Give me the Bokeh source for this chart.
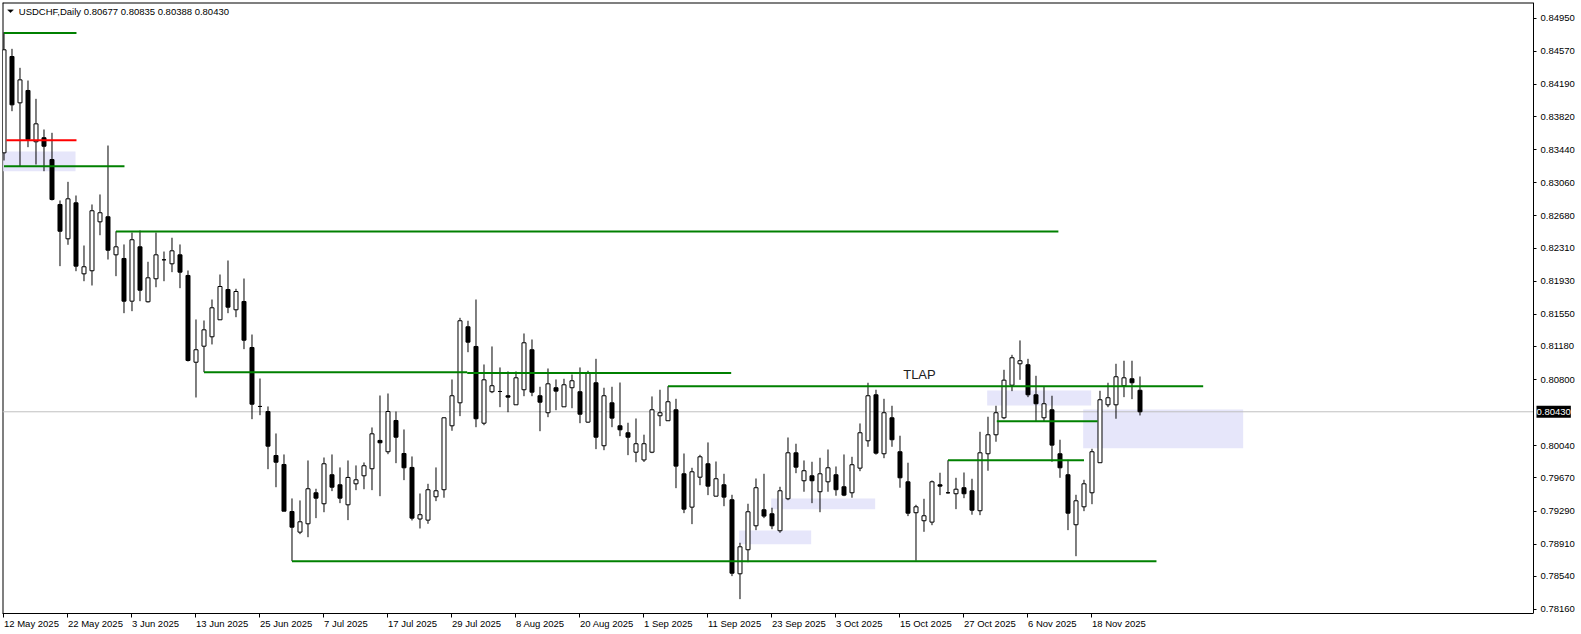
from bokeh.plotting import figure
from bokeh.models import Range1d, FixedTicker, Label, PolyAnnotation, ColumnDataSource, NumeralTickFormatter
from bokeh.embed import file_html
from bokeh.resources import INLINE
from bokeh.core.properties import value

# ---------------- data (USDCHF daily, bar 0 = 12 May 2025) ----------------
opens = [0.83403, 0.84509, 0.83977, 0.84119, 0.83530, 0.83576, 0.83326, 0.82810, 0.82416, 0.82829,
         0.82014, 0.82049, 0.82611, 0.82669, 0.82232, 0.82190, 0.81700, 0.82324, 0.81693, 0.81957,
         0.82175, 0.82129, 0.82232, 0.81995, 0.80999, 0.81183, 0.81291, 0.81486, 0.81834, 0.81601,
         0.81696, 0.81168, 0.80491, 0.80433, 0.79928, 0.79825, 0.79285, 0.79048, 0.79144, 0.79500,
         0.79374, 0.79707, 0.79592, 0.79362, 0.79603, 0.79695, 0.79776, 0.80101, 0.79971, 0.80330,
         0.79951, 0.79791, 0.79199, 0.79186, 0.79454, 0.79535, 0.80269, 0.80533, 0.81406, 0.81180,
         0.80299, 0.80660, 0.80663, 0.80614, 0.80510, 0.80683, 0.81142, 0.80614, 0.80419, 0.80706,
         0.80487, 0.80706, 0.80660, 0.80311, 0.80763, 0.80040, 0.80533, 0.80269, 0.80189, 0.79966,
         0.79877, 0.79966, 0.80384, 0.80327, 0.80453, 0.79718, 0.79335, 0.79679, 0.79833, 0.79461,
         0.79592, 0.79420, 0.78570, 0.78846, 0.79121, 0.79305, 0.79259, 0.79064, 0.79431, 0.79959,
         0.79638, 0.79695, 0.79512, 0.79626, 0.79707, 0.79569, 0.79500, 0.79783, 0.80097, 0.80625,
         0.79948, 0.80361, 0.79971, 0.79626, 0.79271, 0.79179, 0.79163, 0.79592, 0.79500, 0.79489,
         0.79558, 0.79523, 0.79294, 0.79948, 0.80166, 0.80361, 0.80735, 0.80981, 0.80970, 0.80625,
         0.80361, 0.80453, 0.79948, 0.79707, 0.79133, 0.79339, 0.79500, 0.79845, 0.80510, 0.80510,
         0.80729, 0.80809, 0.80677]
highs = [0.84788, 0.84597, 0.84379, 0.84233, 0.84023, 0.83671, 0.83633, 0.82856, 0.83070, 0.82913,
         0.82339, 0.82810, 0.82925, 0.83487, 0.82503, 0.82351, 0.82488, 0.82511, 0.82152, 0.82488,
         0.82270, 0.82428, 0.82351, 0.82052, 0.81490, 0.81478, 0.81719, 0.82006, 0.82167, 0.81842,
         0.81960, 0.81317, 0.80812, 0.80491, 0.80181, 0.79940, 0.79435, 0.79412, 0.79871, 0.79546,
         0.79905, 0.79940, 0.79791, 0.79871, 0.79814, 0.79848, 0.80250, 0.80617, 0.80640, 0.80433,
         0.80227, 0.79917, 0.79492, 0.79603, 0.79791, 0.80365, 0.80801, 0.81509, 0.81475, 0.81719,
         0.80973, 0.81180, 0.80939, 0.80893, 0.80893, 0.81329, 0.81260, 0.80717, 0.80927, 0.80801,
         0.80809, 0.80858, 0.80939, 0.80901, 0.81038, 0.80706, 0.80717, 0.80766, 0.80304, 0.80353,
         0.80167, 0.80606, 0.80683, 0.80724, 0.80579, 0.79951, 0.79787, 0.79936, 0.80078, 0.79859,
         0.79718, 0.79477, 0.78926, 0.79374, 0.79664, 0.79718, 0.79328, 0.79569, 0.80135, 0.80063,
         0.79871, 0.79856, 0.79902, 0.79997, 0.79802, 0.79940, 0.79913, 0.80296, 0.80763, 0.80683,
         0.80579, 0.80499, 0.80155, 0.79845, 0.79362, 0.79431, 0.79641, 0.79730, 0.79874, 0.79672,
         0.79733, 0.79661, 0.80200, 0.80373, 0.80499, 0.80912, 0.81084, 0.81249, 0.81038, 0.80843,
         0.80717, 0.80614, 0.80109, 0.79879, 0.79477, 0.79649, 0.80005, 0.80671, 0.80763, 0.80981,
         0.81016, 0.81016, 0.80835]
lows = [0.83315, 0.83881, 0.83250, 0.83468, 0.83269, 0.83192, 0.82856, 0.82102, 0.82347, 0.82044,
        0.81929, 0.81880, 0.82457, 0.82178, 0.81987, 0.81562, 0.81585, 0.81700, 0.81685, 0.81860,
        0.81929, 0.82033, 0.81849, 0.81007, 0.80594, 0.80885, 0.81203, 0.81486, 0.81562, 0.81516,
        0.81149, 0.80345, 0.80391, 0.79771, 0.79564, 0.79289, 0.78715, 0.79025, 0.78990, 0.79209,
        0.79277, 0.79519, 0.79381, 0.79186, 0.79530, 0.79541, 0.79530, 0.79461, 0.79943, 0.79840,
        0.79645, 0.79182, 0.79090, 0.79144, 0.79404, 0.79443, 0.80212, 0.80380, 0.81114, 0.80253,
        0.80276, 0.80644, 0.80483, 0.80425, 0.80510, 0.80609, 0.80609, 0.80207, 0.80368, 0.80448,
        0.80487, 0.80471, 0.80299, 0.80304, 0.80001, 0.79989, 0.80253, 0.80150, 0.79932, 0.79851,
        0.79854, 0.79955, 0.80265, 0.80327, 0.79553, 0.79266, 0.79140, 0.79587, 0.79473, 0.79461,
        0.79346, 0.78543, 0.78279, 0.78703, 0.79071, 0.79209, 0.79082, 0.79041, 0.79415, 0.79725,
        0.79512, 0.79381, 0.79277, 0.79512, 0.79466, 0.79461, 0.79443, 0.79748, 0.80028, 0.79938,
        0.79897, 0.80028, 0.79558, 0.79232, 0.78720, 0.79052, 0.79128, 0.79473, 0.79489, 0.79312,
        0.79438, 0.79248, 0.79243, 0.79753, 0.80086, 0.80345, 0.80667, 0.80797, 0.80598, 0.80315,
        0.80315, 0.79856, 0.79672, 0.79071, 0.78772, 0.79289, 0.79369, 0.79845, 0.80483, 0.80350,
        0.80598, 0.80575, 0.80388]
closes = [0.84586, 0.83954, 0.84241, 0.83556, 0.83736, 0.83479, 0.82867, 0.82503, 0.82875, 0.82102,
          0.82095, 0.82738, 0.82715, 0.82285, 0.82324, 0.81700, 0.82405, 0.81826, 0.81968, 0.82232,
          0.82175, 0.82278, 0.82033, 0.81019, 0.81142, 0.81371, 0.81624, 0.81868, 0.81631, 0.81811,
          0.81252, 0.80517, 0.80491, 0.80035, 0.79851, 0.79289, 0.79105, 0.79167, 0.79546, 0.79438,
          0.79833, 0.79564, 0.79438, 0.79676, 0.79649, 0.79810, 0.80177, 0.80074, 0.80433, 0.80138,
          0.79787, 0.79209, 0.79248, 0.79535, 0.79523, 0.80361, 0.80614, 0.81475, 0.81229, 0.80350,
          0.80797, 0.80729, 0.80663, 0.80598, 0.80820, 0.81222, 0.80655, 0.80540, 0.80751, 0.80667,
          0.80740, 0.80786, 0.80402, 0.80878, 0.80138, 0.80614, 0.80357, 0.80223, 0.80138, 0.80063,
          0.80063, 0.80453, 0.80419, 0.80545, 0.79806, 0.79312, 0.79741, 0.79913, 0.79576, 0.79661,
          0.79450, 0.78577, 0.78880, 0.79282, 0.79558, 0.79232, 0.79121, 0.79523, 0.79959, 0.79794,
          0.79753, 0.79638, 0.79718, 0.79787, 0.79535, 0.79473, 0.79822, 0.80189, 0.80614, 0.79955,
          0.80419, 0.80109, 0.79672, 0.79266, 0.79339, 0.79236, 0.79626, 0.79576, 0.79500, 0.79541,
          0.79489, 0.79300, 0.79959, 0.80166, 0.80419, 0.80793, 0.81050, 0.81016, 0.80625, 0.80522,
          0.80522, 0.80047, 0.79787, 0.79266, 0.79408, 0.79603, 0.79971, 0.80568, 0.80591, 0.80832,
          0.80820, 0.80763, 0.80430]

date_labels = ["12 May 2025", "22 May 2025", "3 Jun 2025", "13 Jun 2025", "25 Jun 2025",
               "7 Jul 2025", "17 Jul 2025", "29 Jul 2025", "8 Aug 2025", "20 Aug 2025",
               "1 Sep 2025", "11 Sep 2025", "23 Sep 2025", "3 Oct 2025", "15 Oct 2025",
               "27 Oct 2025", "6 Nov 2025", "18 Nov 2025"]
date_label_bars = [0, 8, 16, 24, 32, 40, 48, 56, 64, 72, 80, 88, 96, 104, 112, 120, 128, 136]

price_ticks = [0.84950, 0.84570, 0.84190, 0.83820, 0.83440, 0.83060, 0.82680, 0.82310, 0.81930,
               0.81550, 0.81180, 0.80800, 0.80040, 0.79670, 0.79290, 0.78910, 0.78540, 0.78160]

symbol = "USDCHF"
timeframe = "Daily"
last_price = 0.80430

# horizontal levels: (start bar, end bar, price)
green_levels = [(0.0, 9.06, 0.84780), (0.0, 15.06, 0.83250), (14.0, 131.8, 0.82500),
                (25.0, 57.9, 0.80885), (57.9, 90.9, 0.80874), (83.0, 149.9, 0.80724),
                (124.1, 136.7, 0.80322), (118.0, 135.0, 0.79874), (36.0, 144.06, 0.78715)]
red_levels = [(0.3, 9.06, 0.83548)]
# zones: (start bar, end bar, upper price, lower price)
zones = [(-0.1, 8.94, 0.83418, 0.83192), (91.9, 100.9, 0.79067, 0.78910),
         (95.9, 108.9, 0.79435, 0.79312), (122.9, 135.9, 0.80675, 0.80502),
         (134.9, 154.9, 0.80456, 0.80012)]
note_text = "TLAP"
note_bar = 112.4
note_price = 0.80858

# ---------------- figure ----------------
FONT = "Liberation Sans"
FW, FH = 1579, 611
X0, X1 = -0.1875, 197.19       # visible bar range
XB = 191.19                    # bar position of the chart's right border (price scale)
Y0, Y1 = 0.78114, 0.85129

p = figure(frame_width=FW, frame_height=FH, x_range=Range1d(X0, X1), y_range=Range1d(Y0, Y1),
           output_backend="svg", toolbar_location=None, y_axis_location="right",
           min_border_left=2, min_border_top=2, min_border_right=0, min_border_bottom=0,
           background_fill_color="white", border_fill_color="white")
p.xgrid.visible = False
p.ygrid.visible = False
p.outline_line_color = None

# chart border (left and top edges; right/bottom come from the axes)
p.segment(x0=[X0, X0], x1=[X0, XB], y0=[Y0, Y1], y1=[Y1, Y1], line_color="black", line_width=2)

# zones
p.quad(left=[z[0] for z in zones], right=[z[1] for z in zones],
       top=[z[2] for z in zones], bottom=[z[3] for z in zones],
       fill_color="#E6E6FA", line_color=None)

# current price line
p.segment(x0=[X0], x1=[XB], y0=[last_price], y1=[last_price], line_color="#C0C0C0", line_width=1)

# candles
n = len(opens)
idx = list(range(n))
p.segment(x0=idx, x1=idx, y0=lows, y1=highs, line_color="black", line_width=1)
bull = [i for i in idx if closes[i] >= opens[i]]
bear = [i for i in idx if closes[i] < opens[i]]
src_bull = ColumnDataSource(dict(x=bull, top=[closes[i] for i in bull], bottom=[opens[i] for i in bull]))
src_bear = ColumnDataSource(dict(x=bear, top=[opens[i] for i in bear], bottom=[closes[i] for i in bear]))
p.vbar(x="x", top="top", bottom="bottom", width=0.5, source=src_bull,
       fill_color="white", line_color="black", line_width=1)
p.vbar(x="x", top="top", bottom="bottom", width=0.5, source=src_bear,
       fill_color="black", line_color="black", line_width=1)

# levels
p.segment(x0=[g[0] for g in green_levels], x1=[g[1] for g in green_levels],
          y0=[g[2] for g in green_levels], y1=[g[2] for g in green_levels],
          line_color="#008000", line_width=2)
p.segment(x0=[r[0] for r in red_levels], x1=[r[1] for r in red_levels],
          y0=[r[2] for r in red_levels], y1=[r[2] for r in red_levels],
          line_color="#FF0000", line_width=2)

p.text(x=[note_bar], y=[note_price], text=[note_text], text_font=value(FONT),
       text_font_size="13px", text_color="#202020", text_baseline="middle", text_align="left")

# price axis, pinned at the chart's right border
ya = p.yaxis[0]
ya.fixed_location = XB
ya.ticker = FixedTicker(ticks=price_ticks)
ya.formatter = NumeralTickFormatter(format="0.00000")
ya.major_tick_in = 0
ya.major_tick_out = 3
ya.minor_tick_in = 0
ya.minor_tick_out = 0
ya.major_label_standoff = 4
ya.major_label_text_font = FONT
ya.major_label_text_font_size = "9.5px"
ya.major_label_text_color = "black"
ya.axis_line_color = "black"
ya.major_tick_line_color = "black"

# date axis
xa = p.xaxis[0]
xa.bounds = (X0, XB)
xa.ticker = FixedTicker(ticks=date_label_bars)
xa.major_label_overrides = {b: t for b, t in zip(date_label_bars, date_labels)}
xa.major_label_orientation = -0.0001
xa.major_tick_in = 0
xa.major_tick_out = 4
xa.minor_tick_in = 0
xa.minor_tick_out = 0
xa.major_label_standoff = 6
xa.major_label_text_font = FONT
xa.major_label_text_font_size = "9.5px"
xa.major_label_text_color = "black"
xa.axis_line_color = "black"
xa.major_tick_line_color = "black"

# header
p.add_layout(PolyAnnotation(xs=[5, 11, 8], ys=[FH - 7.3, FH - 7.3, FH - 10.3],
                            xs_units="screen", ys_units="screen",
                            fill_color="black", fill_alpha=1, line_color="black", line_width=1))
p.add_layout(Label(x=16.3, y=FH - 8.7, x_units="screen", y_units="screen",
                   text=f"{symbol},{timeframe}  {opens[-1]:.5f} {highs[-1]:.5f} {lows[-1]:.5f} {closes[-1]:.5f}",
                   text_font=FONT, text_font_size="9.5px", text_color="black",
                   text_baseline="middle", text_align="left"))

# current price tag on the price scale
p.add_layout(Label(x=XB, y=last_price, x_offset=3, y_units="data",
                   text=f"{last_price:.5f}", text_font=FONT, text_font_size="9.5px",
                   text_color="white", background_fill_color="black", background_fill_alpha=1,
                   text_baseline="middle", text_align="left", padding=(0, 3)))

open("out.html", "w").write(file_html(p, INLINE))
